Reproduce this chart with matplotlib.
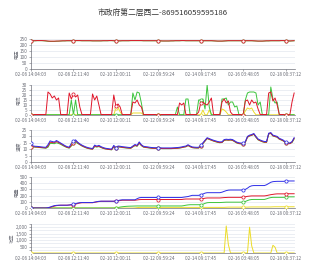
import matplotlib
matplotlib.use("Agg")
import matplotlib.pyplot as plt
import numpy as np

plt.rcParams['font.family'] = ['Noto Sans CJK SC', 'DejaVu Sans']

title = "市政府第二层西二-869516059595186"
tick_labels = ["02-06 14:04:03", "02-08 12:11:40", "02-10 12:00:11", "02-12 09:59:24",
               "02-14 09:17:45", "02-16 03:48:05", "02-18 00:37:12"]
tick_step = 20
panel_names = ["电压", "电流", "温度", "电量", "功率"]

volt_c = [236,236,236,237,237,237,236,235,233,232,232,232,233,233,234,235,235,236,236,236,
          236,237,237,237,236,236,236,236,236,235,235,235,235,235,236,236,236,237,237,236,
          235,235,235,236,236,236,236,237,237,237,237,237,237,236,236,236,236,236,236,236,
          235,235,234,234,234,234,235,235,236,236,236,237,237,236,236,236,236,236,236,236,
          236,236,236,236,236,236,235,234,233,233,233,234,235,236,236,236,236,236,236,236,
          236,236,236,236,236,235,234,233,233,233,234,235,235,236,236,236,236,236,237,237,
          236,235,234,235,236]
volt_b = [235,235,235,236,236,236,235,233,231,230,230,230,231,232,233,234,234,235,235,235,
          235,236,236,236,235,235,235,235,235,234,234,234,234,234,235,235,235,236,236,235,
          234,234,234,235,235,235,235,236,236,236,236,236,236,235,235,235,235,235,235,235,
          234,234,233,233,233,233,234,234,235,235,235,236,236,235,235,235,235,235,235,235,
          235,235,235,235,235,235,234,233,232,232,232,233,234,235,235,235,235,235,235,235,
          235,235,235,235,235,234,233,232,232,232,233,234,234,235,235,235,235,235,236,236,
          235,234,233,234,235]

cur_c = [0.5,0.5,0.5,0.5,0.5,0.5,0.5,0.5,23,21,17,19,15,17,0.5,0.5,0.5,0.5,22,16,
         21,18,20,8,0.5,0.5,0.5,0.5,0.5,21,15,19,10,0.5,0.5,0.5,0.5,0.5,0.5,20,
         9,11,8,0.5,0.5,0.5,0.5,0.5,13,12,15,10,8,0.5,0.5,0.5,0.5,0.5,0.5,0.5,
         0.5,0.5,0.5,0.5,0.5,0.5,0.5,0.5,0.5,0.5,12,10,12,0.5,0.5,0.5,0.5,0.5,0.5,3,
         12,13,11,10,13,17,0.5,0.5,0.5,0.5,13,16,12,14,3,0.5,0.5,0.5,0.5,0.5,
         0.5,14,15,10,15,12,13,6,0.5,0.5,0.5,0.5,22,23,14,17,10,0.5,0.5,0.5,
         0.5,0.5,0.5,13,22]
cur_b = [0.3,0.3,0.3,0.3,0.3,0.3,0.3,0.3,0.3,0.3,0.3,0.3,0.3,0.3,0.3,0.3,0.3,0.3,0.3,15,
         0.3,15,0.3,0.3,0.3,0.3,0.3,0.3,0.3,0.3,0.3,0.3,0.3,0.3,0.3,0.3,0.3,0.3,0.3,0.3,
         0.3,0.3,0.3,0.3,0.3,0.3,0.3,0.3,22,15,23,22,12,0.3,0.3,0.3,0.3,0.3,0.3,0.3,
         0.3,0.3,0.3,0.3,0.3,0.3,0.3,0.3,0.3,8,0.3,0.3,0.3,16,16,0.3,0.3,0.3,0.3,15,
         15,16,6,30,8,0.3,0.3,0.3,0.3,0.3,16,16,17,10,13,13,8,9,0.3,0.3,
         0.3,15,22,23,23,23,22,10,13,0.3,0.3,0.3,0.3,28,16,12,13,0.3,0.3,0.3,
         0.3,0.3,0.3,0.3,0.3]
cur_a = [0.2,0.2,0.2,0.2,0.2,0.2,0.2,0.2,0.2,0.2,0.2,0.2,0.2,0.2,0.2,0.2,0.2,0.2,0.2,0.2,
         0.2,0.2,0.2,0.2,0.2,0.2,0.2,0.2,0.2,0.2,0.2,0.2,0.2,0.2,0.2,0.2,0.2,0.2,0.2,0.2,
         7,8,3,0.2,0.2,0.2,0.2,0.2,2,2,2,2,2,0.2,0.2,0.2,0.2,0.2,0.2,0.2,
         0.2,0.2,0.2,0.2,0.2,0.2,0.2,0.2,0.2,0.2,0.2,0.2,0.2,0.2,0.2,0.2,0.2,0.2,0.2,0.2,
         0.2,5,0.2,0.2,5,0.2,0.2,0.2,0.2,0.2,6,5,3,0.2,0.2,0.2,0.2,0.2,0.2,0.2,
         0.2,4,7,6,7,3,0.2,0.2,0.2,0.2,0.2,0.2,0.2,0.2,0.2,0.2,0.2,0.2,0.2,0.2,
         0.2,0.2,0.2,0.2,0.2]

temp_c = [15,12.5,12.3,12.2,12,11.8,11.6,11.5,13.5,16.5,16,15.6,16.8,15.8,14.8,13.8,12.8,12,11.6,14.5,
          16.2,17.3,15.5,14.2,13.2,12.4,11.7,11.2,10.8,10.5,13.2,12.4,13,12,11.3,10.8,10.5,10.3,10.1,13,
          11.2,12.5,12.3,12,11.8,11.6,11.4,11.3,12.5,13.7,13,15.7,13.5,12.3,12,11.8,11.5,11.3,11.2,11.2,
          11.2,11.1,11,11,11,11,11,11.1,11.2,11.3,11.5,11.8,12.2,12.5,13.5,12.5,11.8,11.6,11.5,11.5,
          13.2,15,17,19,18.3,17.6,17,16.5,16,15.7,15.8,17.5,17.8,17.6,17.8,17.5,16.5,15.5,15,14.8,
          14.5,16,20,21,21.5,22.3,20,18,17.2,16.5,16,16,22.5,23,21,20.5,20,18.5,17.8,17,
          15.5,15,14.8,16,19]
temp_b = [12,12,11.8,11.7,11.5,11.3,11.1,11,12.5,15.5,15.2,15,16,15.2,14.3,13.3,12.3,11.5,11.1,13,
          15,16.5,15,13.7,12.7,11.9,11.2,10.7,10.3,10,12.5,11.9,12.4,11.5,10.8,10.3,10,9.8,9.6,12.2,
          10.8,12,11.8,11.5,11.3,11.1,10.9,10.8,12,13,12.5,15,13,11.8,11.5,11.3,11,10.8,10.7,10.7,
          10.7,10.6,10.5,10.5,10.5,10.5,10.5,10.6,10.7,10.8,11,11.3,11.7,12,13,12,11.3,11.1,11,11,
          12.7,14.5,16.5,18.5,17.8,17.1,16.5,16,15.5,15.2,15.3,17,17.3,17.1,17.3,17,16,15,14.5,14.3,
          14,15.5,19.5,20.5,21,21.8,19.5,17.5,16.7,16,15.5,15.5,22,22.5,20.5,20,19.5,18,17.3,16.5,
          15,14.5,14.3,15.5,18.5]
temp_a = [12,11.8,11.6,11.5,11.3,11.1,11,10.8,11.5,14.5,14.5,14.3,15,14.5,13.8,12.8,12,11.3,10.8,12.5,
          14.5,15.5,14.5,13.5,12.5,11.7,11,10.5,10.2,10,12,11.7,12,11.3,10.6,10.2,10,9.7,9.5,11.8,
          10.7,11.8,11.6,11.3,11.1,10.9,10.8,10.7,11.8,12.8,12.3,14.5,12.8,11.6,11.3,11.1,10.9,10.7,10.6,10.6,
          10.6,10.5,10.4,10.4,10.4,10.4,10.4,10.5,10.6,10.7,10.9,11.2,11.6,11.9,12.8,11.9,11.2,11,10.9,10.9,
          12.5,14.3,16.3,18.3,17.6,17,16.3,15.8,15.3,15,15.2,16.8,17.1,17,17.1,16.8,15.8,14.8,14.3,14.1,
          14,15.3,19.3,20.3,20.8,21.6,19.3,17.3,16.5,15.8,15.3,15.3,21.8,22.3,20.3,19.8,19.3,17.8,17.1,16.3,
          15,14.8,14.6,15.2,18]

en_d = [0,0,0,0,0,0,0,0,5,15,28,38,43,45,45,45,45,45,48,55,
        60,70,80,86,88,88,88,88,88,88,95,102,108,110,110,110,110,110,110,110,
        115,120,128,132,132,132,132,132,132,132,150,165,170,170,170,170,170,170,170,170,
        170,170,170,170,170,170,170,170,170,170,170,170,175,180,185,195,204,204,204,204,
        214,225,240,247,247,247,247,247,247,247,255,268,280,288,290,290,290,290,290,290,
        292,300,320,345,358,362,362,362,362,362,362,375,395,415,425,428,430,430,430,430,
        435,436,436,436,436]
en_c = [0,0,0,0,0,0,0,0,0,10,20,30,38,42,45,45,45,45,48,50,
        52,62,72,80,85,85,85,85,85,85,92,98,104,108,108,108,108,108,108,108,
        112,116,120,125,125,125,125,125,125,125,130,135,137,137,137,137,137,137,137,137,
        137,137,137,137,137,137,137,137,137,137,137,137,142,145,145,145,145,145,145,145,
        145,150,158,162,162,162,162,162,162,162,165,168,170,172,172,172,172,172,172,172,
        174,180,188,192,195,195,195,195,195,195,195,200,208,215,220,225,228,228,228,228,
        228,230,230,230,230]
en_b = [0,0,0,0,0,0,0,0,0,0,0,0,0,0,0,0,0,0,0,0,
        0,0,0,0,0,0,0,0,0,0,0,0,0,0,0,0,0,0,0,0,
        2,8,15,20,24,27,29,30,31,32,33,33,33,33,33,33,33,33,33,33,
        33,33,33,33,33,33,33,33,33,33,33,33,38,45,50,53,53,53,53,53,
        53,60,75,85,88,88,88,88,88,88,90,92,94,94,94,94,94,94,94,94,
        95,105,120,132,137,138,138,138,138,138,138,148,160,168,172,172,172,172,172,172,
        175,180,180,180,180]
en_a = [0,0,0,0,0,0,0,0,0,0,0,0,0,0,0,0,0,0,0,0,
        0,0,0,0,0,0,0,0,0,0,0,0,0,0,0,0,0,0,0,0,
        0,0,0,0,0,0,0,0,0,2,6,9,10,10,10,10,10,10,10,10,
        10,10,10,10,10,10,10,10,10,10,10,10,10,10,10,10,10,10,10,10,
        10,10,10,10,10,10,10,10,10,10,10,10,12,14,14,14,14,14,14,14,
        14,14,14,16,17,17,17,17,17,17,17,17,17,17,19,20,20,20,20,20,
        20,20,20,20,20]

power_a = [0]*92 + [2100, 650, 0, 0, 0, 0, 0, 0, 0, 0, 0, 2000, 550, 0, 0, 0, 0, 0, 0, 0, 0, 0, 600, 450] + [0]*9

YELLOW = '#ecdc2a'
GREEN = '#3cc43c'
RED = '#e0162a'
BLUE = '#2e2ee8'
AXIS = '#6e7079'
GRID = '#e3e7ef'

fig = plt.figure(figsize=(3.16, 2.64), dpi=100)
fig.text(163/316, 1 - 14/264, title, ha='center', va='center', fontsize=5.6, color='#333333')

L, R = 31/316, 295/316
panels = [
    (39, 69, [(volt_b, GREEN), (volt_c, RED)], (0, 250), [0, 50, 100, 150, 200, 250], None, None),
    (85, 115, [(cur_a, YELLOW), (cur_b, GREEN), (cur_c, RED)], (0, 30), [0, 5, 10, 15, 20, 25, 30], None, None),
    (130, 162, [(temp_a, GREEN), (temp_b, RED), (temp_c, BLUE)], (0, 25), [0, 5, 10, 15, 20, 25], None, None),
    (177, 208, [(en_a, YELLOW), (en_b, GREEN), (en_c, RED), (en_d, BLUE)], (0, 500), [0, 100, 200, 300, 400, 500], None, None),
    (224, 253, [(power_a, YELLOW)], (0, 2250), [500, 1000, 1500, 2000], True,
     [250, 750, 1250, 1750, 2250]),
]

n = len(volt_c)
xs = np.arange(n)
mark_idx = np.arange(0, n, tick_step)

for k, (top, bot, series, ylim, yticks, comma, minor) in enumerate(panels):
    ax = fig.add_axes([L, 1 - bot/264, R - L, (bot - top)/264])
    for vals, col in series:
        v = np.asarray(vals, dtype=float)
        ax.plot(xs, v, color=col, lw=0.7, zorder=3)
        ax.plot(xs[mark_idx], v[mark_idx], ls='none', marker='o', ms=2.3, mfc='white',
                mec=col, mew=0.55, zorder=4)
    ax.set_xlim(0, 124.4)
    ax.set_ylim(*ylim)
    ax.set_yticks(yticks)
    if comma:
        ax.set_yticklabels([f"{t:,}" for t in yticks])
    if minor:
        ax.set_yticks(minor, minor=True)
        ax.grid(axis='y', which='minor', color=GRID, lw=0.5, zorder=0)
        ax.tick_params(axis='y', which='minor', colors=AXIS, length=1.5, width=0.4)
    ax.set_xticks(mark_idx)
    ax.set_xticklabels(tick_labels)
    ax.grid(axis='y', color=GRID, lw=0.5, zorder=0)
    for s in ['top', 'right']:
        ax.spines[s].set_visible(False)
    for s in ['left', 'bottom']:
        ax.spines[s].set_color(AXIS)
        ax.spines[s].set_linewidth(0.5)
    ax.tick_params(axis='both', colors=AXIS, labelsize=3.4, length=1.5, width=0.4, pad=1)
    ax.set_ylabel(panel_names[k], fontsize=3.4, color=AXIS, labelpad=0.5)

fig.savefig("out.png", dpi=100)
